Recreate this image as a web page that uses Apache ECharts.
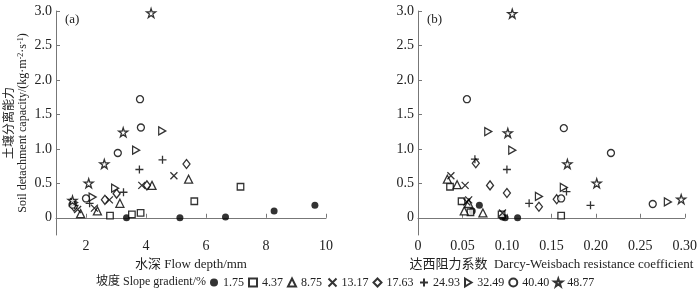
<!DOCTYPE html>
<html>
<head>
<meta charset="utf-8">
<script src="https://cdn.jsdelivr.net/npm/echarts@6/dist/echarts.min.js"></script>
<style>
  html, body { margin: 0; padding: 0; background: #fff; }
  #chart { width: 700px; height: 289px; }
</style>
</head>
<body>
<div id="chart"></div>
<script>
// slope gradients (%) -> legend names
const slopes = ['1.75', '4.37', '8.75', '13.17', '17.63', '24.93', '32.49', '40.40', '48.77']

// (a) flow depth (mm) vs soil detachment capacity
const depth175 = [[3.35, 0], [5.13, 0], [6.65, 0.01], [8.27, 0.1], [9.63, 0.18]]
const depth437 = [[2.8, 0.03], [3.53, 0.05], [3.82, 0.07], [5.61, 0.24], [7.15, 0.45]]
const depth875 = [[1.82, 0.06], [2.38, 0.1], [3.13, 0.21], [4.2, 0.47], [5.42, 0.56]]
const depth1317 = [[1.72, 0.12], [2.28, 0.14], [2.78, 0.26], [3.86, 0.47], [4.93, 0.61]]
const depth1763 = [[1.6, 0.16], [2.63, 0.26], [3.02, 0.35], [4.03, 0.47], [5.35, 0.78]]
const depth2493 = [[1.62, 0.18], [2.12, 0.21], [3.25, 0.37], [3.78, 0.7], [4.55, 0.84]]
const depth3249 = [[1.6, 0.22], [2.22, 0.3], [2.97, 0.43], [3.67, 0.98], [4.54, 1.26]]
const depth4040 = [[1.55, 0.19], [2.0, 0.28], [3.06, 0.94], [3.83, 1.31], [3.8, 1.72]]
const depth4877 = [[1.55, 0.25], [2.09, 0.5], [2.61, 0.78], [3.24, 1.24], [4.17, 2.97]]

// (b) Darcy-Weisbach resistance coefficient vs soil detachment capacity
const dw175 = [[0.061, 0.1], [0.069, 0.18], [0.095, 0.01], [0.098, 0], [0.112, 0]]
const dw437 = [[0.036, 0.45], [0.049, 0.24], [0.059, 0.08], [0.094, 0.05], [0.161, 0.03]]
const dw875 = [[0.033, 0.56], [0.044, 0.48], [0.052, 0.1], [0.057, 0.21], [0.073, 0.07]]
const dw1317 = [[0.037, 0.61], [0.053, 0.47], [0.057, 0.26], [0.095, 0.07], [0.055, 0.23]]
const dw1763 = [[0.065, 0.79], [0.081, 0.47], [0.1, 0.36], [0.136, 0.16], [0.156, 0.27]]
const dw2493 = [[0.064, 0.85], [0.1, 0.7], [0.125, 0.21], [0.167, 0.38], [0.194, 0.18]]
const dw3249 = [[0.079, 1.25], [0.106, 0.98], [0.136, 0.31], [0.164, 0.44], [0.281, 0.23]]
const dw4040 = [[0.055, 1.72], [0.164, 1.3], [0.217, 0.94], [0.161, 0.28], [0.264, 0.2]]
const dw4877 = [[0.106, 2.96], [0.101, 1.23], [0.168, 0.78], [0.201, 0.5], [0.296, 0.27]]

const depthTicks = [2, 4, 6, 8, 10]
const dwTicks = [0, 0.05, 0.1, 0.15, 0.2, 0.25, 0.3]
const yTicks = [0, 0.5, 1, 1.5, 2, 2.5, 3]

const depthSets = [depth175, depth437, depth875, depth1317, depth1763, depth2493, depth3249, depth4040, depth4877]
const dwSets = [dw175, dw437, dw875, dw1317, dw1763, dw2493, dw3249, dw4040, dw4877]

const star = 'path://M50,2L61,36L97,36L68,57L79,92L50,71L21,92L32,57L3,36L39,36Z'
const marks = [
  { symbol: 'circle', size: 7, fill: '#000' },
  { symbol: 'rect', size: 6.5, fill: '#fff' },
  { symbol: 'triangle', size: 8, fill: '#fff' },
  { symbol: 'path://M0,0L10,10M10,0L0,10', size: 7, fill: 'none' },
  { symbol: 'diamond', size: [7, 9], fill: '#fff' },
  { symbol: 'path://M5,0L5,10M0,5L10,5', size: 8, fill: 'none' },
  { symbol: 'path://M0,0L9,5.5L0,11Z', size: [7, 8], fill: '#fff' },
  { symbol: 'circle', size: 7, fill: '#fff' },
  { symbol: star, size: 9, fill: '#fff' }
]

const serif = '"Liberation Serif", "Noto Sans CJK SC", serif'
const axisColor = '#777'

const makeX = (grid, min, max, ticks, name, fmt) => ({
  type: 'value', gridIndex: grid, min, max,
  name, nameLocation: 'middle', nameGap: 17,
  nameTextStyle: { fontFamily: serif, fontSize: 13, color: '#222' },
  axisLine: { show: true, lineStyle: { color: axisColor } },
  axisTick: { show: true, inside: true, length: 4, customValues: ticks, lineStyle: { color: axisColor } },
  axisLabel: { customValues: ticks, formatter: fmt, margin: 4, fontFamily: serif, fontSize: 14, color: '#222' },
  splitLine: { show: false }
})

const makeY = (grid) => ({
  type: 'value', gridIndex: grid, min: -0.25, max: 3,
  axisLine: { show: true, lineStyle: { color: axisColor } },
  axisTick: { show: true, inside: true, length: 4, customValues: yTicks, lineStyle: { color: axisColor } },
  axisLabel: {
    customValues: yTicks, margin: 4, fontFamily: serif, fontSize: 14, color: '#222',
    formatter: v => (v === 0 ? '0' : v.toFixed(1))
  },
  splitLine: { show: false }
})

const makeSeries = (sets, idx) => sets.map((d, i) => ({
  name: slopes[i],
  type: 'scatter',
  xAxisIndex: idx, yAxisIndex: idx,
  data: d,
  symbol: marks[i].symbol,
  symbolSize: marks[i].size,
  itemStyle: { color: marks[i].fill, borderColor: '#000', borderWidth: i === 0 ? 0 : 1.3 },
  emphasis: { disabled: true }
}))

const chart = echarts.init(document.getElementById('chart'))

const option = {
  animation: false,
  grid: [
    { left: 56, right: 374, top: 11, bottom: 54 },
    { left: 418, right: 12, top: 11, bottom: 54 }
  ],
  xAxis: [
    makeX(0, 1, 10, depthTicks, '水深 Flow depth/mm', v => String(v)),
    makeX(1, 0, 0.3, dwTicks, '达西阻力系数  Darcy-Weisbach resistance coefficient', v => (v === 0 ? '0' : v.toFixed(2)))
  ],
  yAxis: [makeY(0), makeY(1)],
  legend: {
    data: slopes,
    left: 210, top: 276, padding: 0,
    itemWidth: 8, itemHeight: 8, itemGap: 4,
    textStyle: { fontFamily: serif, fontSize: 12, color: '#222' }
  },
  graphic: [
    {
      type: 'text', x: 8, y: 123, rotation: Math.PI / 2,
      style: { text: '土壤分离能力', font: '12px "Noto Sans CJK SC"', fill: '#222', align: 'center', verticalAlign: 'middle' }
    },
    {
      type: 'text', x: 23, y: 123, rotation: Math.PI / 2,
      style: {
        text: 'Soil detachment capacity/(kg·m{sup|-2}·s{sup|-1})',
        fontFamily: serif, fontSize: 12, fill: '#222', align: 'center', verticalAlign: 'middle',
        rich: { sup: { fontFamily: serif, fontSize: 8, verticalAlign: 'top', fill: '#222' } }
      }
    },
    { type: 'text', x: 65, y: 20, style: { text: '(a)', fontFamily: serif, fontSize: 13, fill: '#222', verticalAlign: 'middle' } },
    { type: 'text', x: 427, y: 20, style: { text: '(b)', fontFamily: serif, fontSize: 13, fill: '#222', verticalAlign: 'middle' } },
    {
      type: 'text', x: 206, y: 282,
      style: { text: '坡度 Slope gradient/%', fontFamily: serif, fontSize: 12, fill: '#222', align: 'right', verticalAlign: 'middle' }
    }
  ],
  series: [...makeSeries(depthSets, 0), ...makeSeries(dwSets, 1)]
}

chart.setOption(option)
</script>
</body>
</html>
